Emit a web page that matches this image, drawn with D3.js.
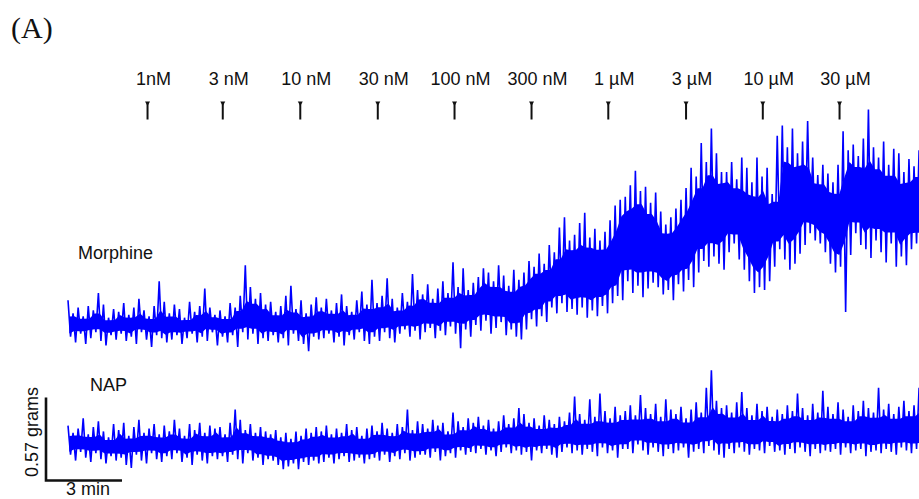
<!DOCTYPE html>
<html>
<head>
<meta charset="utf-8">
<script src="https://cdn.jsdelivr.net/npm/d3@7"></script>
<style>
  html, body { margin: 0; padding: 0; background: #fff; }
  svg { display: block; }
  text { font-family: "Liberation Sans", Arial, Helvetica, sans-serif; fill: #111; }
</style>
</head>
<body>
<svg id="chart" width="919" height="499"></svg>
<script>
// ---- data ----
const panelLabel = "(A)";
const doseLabels = ["1nM", "3 nM", "10 nM", "30 nM", "100 nM", "300 nM", "1 µM", "3 µM", "10 µM", "30 µM"];
const doseTimes = [3.14, 6.11, 9.17, 12.23, 15.26, 18.30, 21.33, 24.40, 27.43, 30.46]; // minutes
const traceNames = ["Morphine", "NAP"];
const binMinutes = 0.2;   // each bin: a peak (hi) and a trough (lo), grams relative to baseline
const scaleBarGrams = 0.57;
const scaleBarMinutes = 3;

const morphineHi = [
  0.17,0.08,0.12,0.06,0.13,0.10,0.22,0.14,0.05,0.11,
  0.09,0.15,0.07,0.12,0.18,0.10,0.06,0.13,0.30,0.16,
  0.08,0.14,0.11,0.05,0.16,0.09,0.13,0.25,0.12,0.07,
  0.10,0.06,0.15,0.12,0.20,0.41,0.26,0.18,0.22,0.14,
  0.16,0.09,0.13,0.20,0.27,0.11,0.17,0.08,0.14,0.19,
  0.12,0.18,0.10,0.15,0.21,0.13,0.09,0.17,0.23,0.14,
  0.31,0.15,0.20,0.32,0.18,0.12,0.22,0.16,0.35,0.24,
  0.21,0.28,0.18,0.25,0.30,0.22,0.43,0.26,0.39,0.24,
  0.29,0.33,0.39,0.36,0.30,0.41,0.34,0.27,0.38,0.31,
  0.36,0.44,0.40,0.49,0.42,0.55,0.50,0.67,0.74,0.58,
  0.62,0.70,0.77,0.60,0.66,0.58,0.64,0.72,0.82,0.86,
  0.88,0.96,1.06,0.92,0.95,0.84,0.91,0.78,0.69,0.74,
  0.80,0.86,0.94,1.08,1.02,1.25,1.12,1.35,1.18,1.05,
  1.05,1.12,1.00,1.15,1.08,0.98,1.15,1.02,1.08,0.90,
  1.30,1.37,1.22,1.35,1.18,1.26,1.40,1.15,1.03,1.10,
  1.04,0.98,1.10,1.33,1.20,1.24,1.16,1.28,1.48,1.22,
  1.15,1.26,1.10,1.21,1.18,1.05,1.14,1.09,1.20
];
const morphineLo = [
  -0.08,-0.12,-0.06,-0.13,-0.09,-0.05,-0.11,-0.14,-0.07,-0.10,
  -0.06,-0.11,-0.08,-0.13,-0.05,-0.10,-0.15,-0.07,-0.09,-0.12,
  -0.10,-0.07,-0.13,-0.09,-0.06,-0.12,-0.08,-0.11,-0.05,-0.14,
  -0.08,-0.12,-0.07,-0.15,-0.05,-0.10,-0.06,-0.13,-0.09,-0.11,
  -0.07,-0.12,-0.09,-0.14,-0.06,-0.11,-0.13,-0.18,-0.08,-0.10,
  -0.09,-0.06,-0.12,-0.08,-0.14,-0.07,-0.10,-0.05,-0.11,-0.13,
  -0.08,-0.11,-0.05,-0.09,-0.12,-0.06,-0.03,-0.08,-0.04,-0.10,
  -0.05,-0.02,-0.09,-0.04,-0.07,-0.01,-0.06,-0.16,-0.03,-0.08,
  0.00,-0.04,0.03,-0.06,-0.02,0.02,-0.07,-0.03,-0.08,-0.10,
  -0.03,0.04,-0.01,0.06,0.02,0.12,0.08,0.15,0.09,0.11,
  0.07,0.12,0.05,0.10,0.06,0.13,0.08,0.15,0.20,0.17,
  0.30,0.22,0.27,0.19,0.25,0.29,0.26,0.21,0.24,0.17,
  0.28,0.23,0.31,0.26,0.36,0.44,0.40,0.47,0.42,0.38,
  0.50,0.56,0.45,0.38,0.30,0.22,0.26,0.24,0.30,0.40,
  0.52,0.45,0.38,0.42,0.49,0.55,0.63,0.58,0.56,0.50,
  0.42,0.36,0.40,0.09,0.48,0.63,0.55,0.52,0.46,0.58,
  0.50,0.43,0.56,0.40,0.47,0.41,0.52,0.56,0.49
];
const napHi = [
  0.14,0.09,0.12,0.19,0.08,0.13,0.17,0.10,0.06,0.15,
  0.11,0.16,0.07,0.13,0.18,0.09,0.12,0.15,0.08,0.14,
  0.10,0.18,0.12,0.07,0.15,0.11,0.16,0.09,0.14,0.12,
  0.13,0.08,0.16,0.25,0.18,0.11,0.15,0.09,0.13,0.10,
  0.08,0.11,0.06,0.09,0.05,0.10,0.07,0.12,0.09,0.13,
  0.10,0.14,0.08,0.12,0.09,0.15,0.11,0.13,0.07,0.12,
  0.14,0.10,0.16,0.12,0.09,0.15,0.13,0.25,0.11,0.17,
  0.15,0.12,0.18,0.14,0.16,0.10,0.23,0.17,0.13,0.19,
  0.16,0.20,0.14,0.18,0.12,0.17,0.21,0.15,0.19,0.26,
  0.22,0.16,0.19,0.14,0.21,0.18,0.15,0.20,0.17,0.23,
  0.34,0.22,0.18,0.32,0.20,0.36,0.24,0.19,0.27,0.21,
  0.24,0.28,0.21,0.35,0.26,0.22,0.29,0.20,0.32,0.25,
  0.22,0.27,0.19,0.25,0.30,0.23,0.40,0.52,0.31,0.26,
  0.28,0.23,0.30,0.37,0.26,0.21,0.29,0.24,0.27,0.20,
  0.25,0.22,0.28,0.24,0.36,0.26,0.21,0.29,0.23,0.38,
  0.27,0.22,0.30,0.25,0.20,0.28,0.24,0.31,0.26,0.23,
  0.40,0.25,0.29,0.22,0.27,0.31,0.24,0.28,0.40
];
const napLo = [
  -0.06,-0.10,-0.04,-0.08,-0.11,-0.05,-0.09,-0.12,-0.07,-0.10,
  -0.08,-0.13,-0.15,-0.06,-0.10,-0.12,-0.05,-0.09,-0.11,-0.07,
  -0.09,-0.05,-0.11,-0.08,-0.13,-0.06,-0.10,-0.12,-0.07,-0.09,
  -0.07,-0.11,-0.06,-0.09,-0.12,-0.05,-0.10,-0.08,-0.13,-0.09,
  -0.10,-0.13,-0.16,-0.14,-0.12,-0.16,-0.11,-0.13,-0.10,-0.12,
  -0.11,-0.08,-0.12,-0.09,-0.07,-0.11,-0.10,-0.08,-0.12,-0.09,
  -0.08,-0.10,-0.06,-0.11,-0.07,-0.09,-0.05,-0.10,-0.08,-0.06,
  -0.06,-0.08,-0.04,-0.10,-0.07,-0.05,-0.08,-0.03,-0.06,-0.04,
  -0.05,-0.02,-0.06,-0.03,-0.07,-0.04,-0.01,-0.05,-0.03,-0.06,
  -0.04,-0.10,-0.03,-0.05,-0.02,-0.06,-0.08,-0.04,-0.01,-0.05,
  -0.03,-0.06,-0.02,-0.04,-0.07,-0.01,-0.05,-0.03,-0.08,-0.02,
  -0.02,-0.05,0.01,-0.03,-0.06,-0.01,-0.04,-0.07,-0.02,-0.05,
  -0.03,-0.01,-0.08,-0.04,-0.02,-0.05,0.00,-0.03,-0.06,-0.08,
  -0.02,-0.05,-0.01,-0.04,-0.06,-0.02,-0.03,-0.05,0.00,-0.04,
  -0.03,-0.06,-0.02,-0.05,-0.01,-0.04,-0.07,-0.02,-0.05,-0.03,
  -0.04,-0.02,-0.06,-0.01,-0.05,-0.03,-0.02,-0.07,-0.04,-0.03,
  -0.05,-0.02,-0.04,-0.06,-0.01,-0.03,-0.05,-0.02,-0.04
];

// ---- drawing ----
const svg = d3.select("#chart");
const traceColor = "#0000ff";

const x = d3.scaleLinear().domain([0, 33.6]).range([68, 68 + 33.6 * 25.33]);
const pxPerGram = 83 / scaleBarGrams;
const yMorphine = d3.scaleLinear().domain([0, scaleBarGrams]).range([325, 325 - 83]);
const yNap = d3.scaleLinear().domain([0, scaleBarGrams]).range([446, 446 - 83]);

// the pen trace: peak then trough in each bin
function zigzag(hi, lo) {
  const pts = [];
  hi.forEach((h, i) => {
    pts.push({ t: i * binMinutes, v: h });
    pts.push({ t: i * binMinutes + binMinutes / 2, v: lo[i] });
  });
  return pts;
}
// the densely inked core of the trace: where neighbouring strokes overlap
function core(hi, lo) {
  return hi.map((h, i) => {
    const a = Math.max(0, i - 1), b = Math.min(hi.length - 1, i + 1);
    let top = Math.min(hi[a], hi[i], hi[b]);
    let bot = Math.max(lo[a], lo[i], lo[b]);
    const m = (top + bot) / 2;
    if (top < bot) { top = m; bot = m; }
    top = m + (top - m) * 0.72;
    bot = m + (bot - m) * 0.72;
    return { t: i * binMinutes + binMinutes / 4, top, bot };
  });
}

const traces = [
  { name: traceNames[0], hi: morphineHi, lo: morphineLo, y: yMorphine, lx: 78, ly: 259 },
  { name: traceNames[1], hi: napHi, lo: napLo, y: yNap, lx: 90, ly: 391 }
];

traces.forEach(tr => {
  const area = d3.area().x(d => x(d.t)).y0(d => tr.y(d.bot)).y1(d => tr.y(d.top));
  svg.append("path")
    .datum(core(tr.hi, tr.lo))
    .attr("d", area)
    .attr("fill", traceColor);
  const line = d3.line().x(d => x(d.t)).y(d => tr.y(d.v));
  svg.append("path")
    .datum(zigzag(tr.hi, tr.lo))
    .attr("d", line)
    .attr("fill", "none")
    .attr("stroke", traceColor)
    .attr("stroke-width", 1.6)
    .attr("stroke-linejoin", "miter")
    .attr("stroke-miterlimit", 2);
  svg.append("text")
    .attr("x", tr.lx).attr("y", tr.ly)
    .attr("font-size", 18)
    .text(tr.name);
});

// panel label
svg.append("text")
  .attr("x", 11).attr("y", 38)
  .style("font-family", "'Liberation Serif', 'Times New Roman', serif")
  .attr("font-size", 30)
  .text(panelLabel);

// dose markers
const doses = svg.append("g");
doseTimes.forEach((t, i) => {
  const cx = x(t);
  doses.append("line")
    .attr("x1", cx).attr("x2", cx)
    .attr("y1", 103).attr("y2", 119.5)
    .attr("stroke", "#111").attr("stroke-width", 2);
  doses.append("path")
    .attr("d", `M${cx - 2.5},101.5 L${cx + 2.5},101.5 L${cx},106 Z`)
    .attr("fill", "#111");
  doses.append("text")
    .attr("x", cx + 6).attr("y", 85)
    .attr("text-anchor", "middle")
    .attr("font-size", 18)
    .text(doseLabels[i]);
});

// scale bar
const sbX = 46, sbY = 480.5;
const sbH = scaleBarGrams * pxPerGram;
const sbW = x(scaleBarMinutes) - x(0);
svg.append("path")
  .attr("d", `M${sbX},${sbY - sbH} L${sbX},${sbY} L${sbX + sbW},${sbY}`)
  .attr("fill", "none")
  .attr("stroke", "#111")
  .attr("stroke-width", 2.6);
svg.append("text")
  .attr("x", 66).attr("y", 495)
  .attr("font-size", 18)
  .text(`${scaleBarMinutes} min`);
svg.append("text")
  .attr("transform", `translate(37.5, ${sbY - sbH / 2 - 7}) rotate(-90)`)
  .attr("text-anchor", "middle")
  .attr("font-size", 18)
  .text(`${scaleBarGrams} grams`);
</script>
</body>
</html>
